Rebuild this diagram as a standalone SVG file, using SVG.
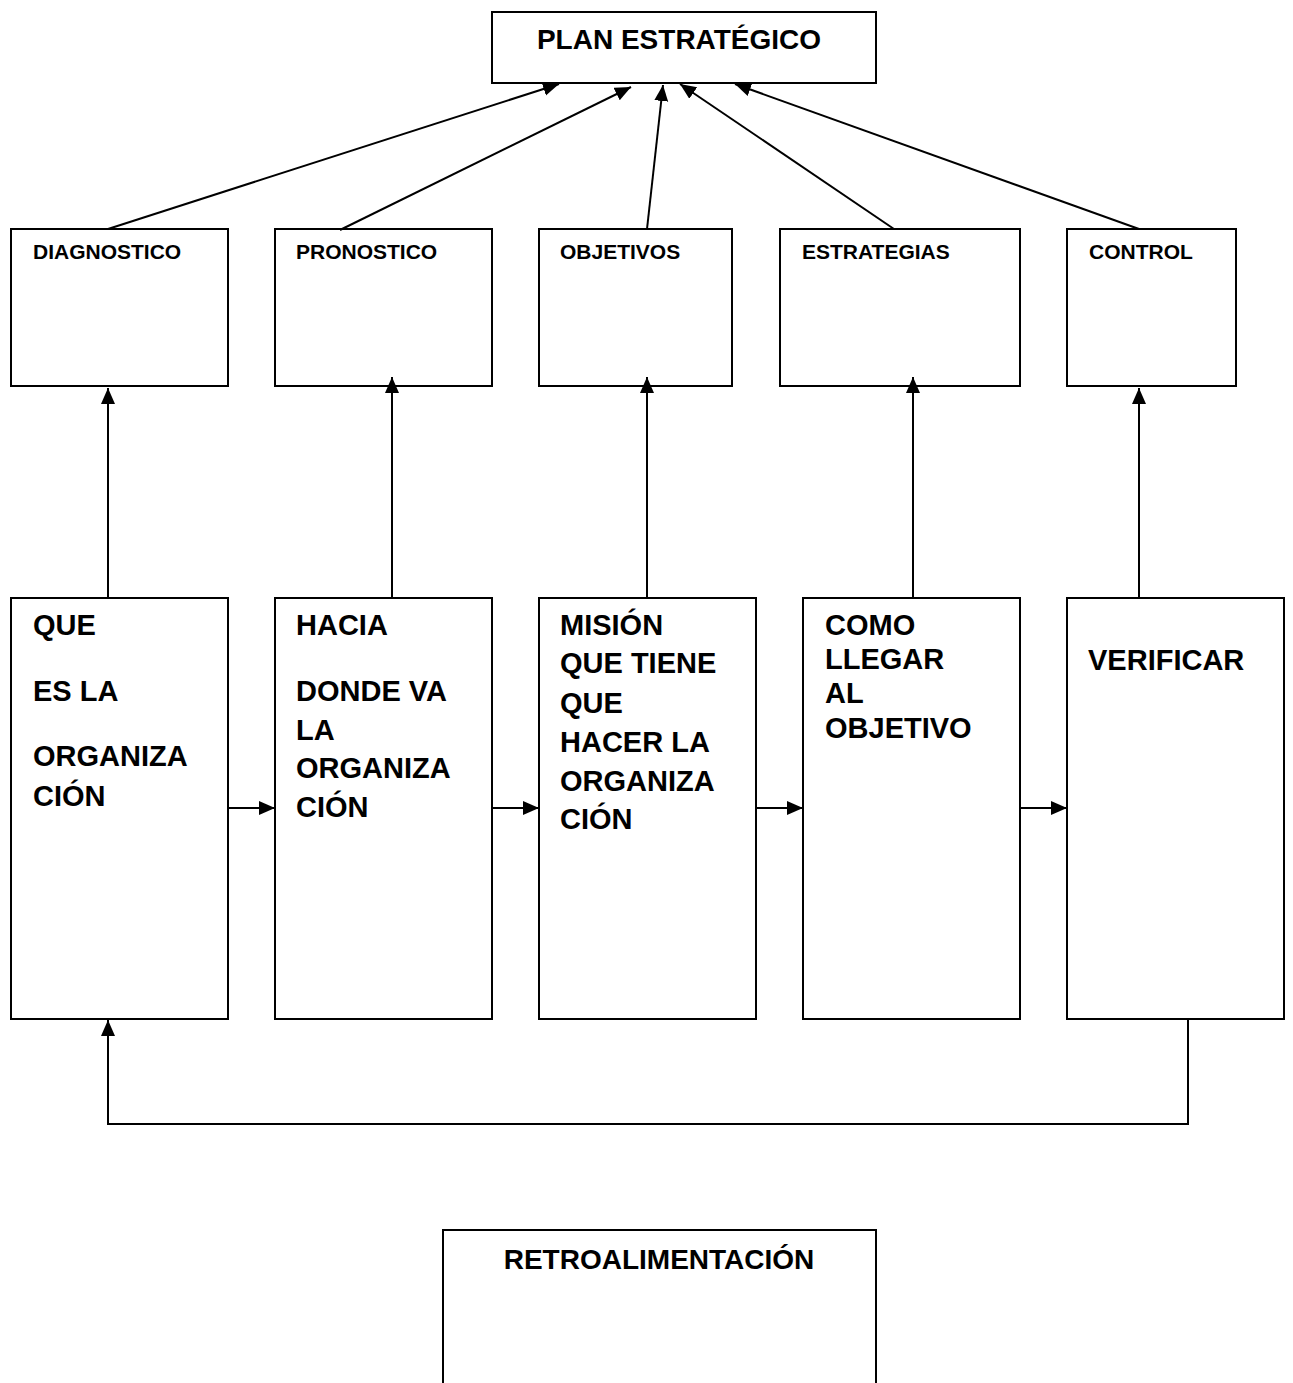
<svg xmlns="http://www.w3.org/2000/svg" width="1293" height="1383" viewBox="0 0 1293 1383">
<style>
.box{fill:#fff;stroke:#000;stroke-width:2}
.t{font-family:"Liberation Sans",Arial,sans-serif;font-weight:bold;fill:#000}
.big{font-size:28px}
.mid{font-size:29px}
.sm{font-size:21px}
.c{fill:none;stroke:#000;stroke-width:2}
</style>
<defs>
<marker id="ah" markerUnits="userSpaceOnUse" markerWidth="18" markerHeight="16" refX="16" refY="7" orient="auto">
<path d="M0,0 L16,7 L0,14 z" fill="#000"/>
</marker>
</defs>
<rect width="1293" height="1383" fill="#fff"/>
<g id="plan"><rect class="box" x="492" y="12" width="384" height="71"/><text class="t big" x="679" y="49" text-anchor="middle">PLAN ESTRATÉGICO</text></g>
<g id="diagnostico"><rect class="box" x="11" y="229" width="217" height="157"/><text class="t sm" x="33" y="259">DIAGNOSTICO</text></g>
<g id="pronostico"><rect class="box" x="275" y="229" width="217" height="157"/><text class="t sm" x="296" y="259">PRONOSTICO</text></g>
<g id="objetivos"><rect class="box" x="539" y="229" width="193" height="157"/><text class="t sm" x="560" y="259">OBJETIVOS</text></g>
<g id="estrategias"><rect class="box" x="780" y="229" width="240" height="157"/><text class="t sm" x="802" y="259">ESTRATEGIAS</text></g>
<g id="control"><rect class="box" x="1067" y="229" width="169" height="157"/><text class="t sm" x="1089" y="259">CONTROL</text></g>
<g id="que"><rect class="box" x="11" y="598" width="217" height="421"/><text class="t mid" x="33"><tspan x="33" y="635">QUE</tspan><tspan x="33" y="701">ES LA</tspan><tspan x="33" y="766">ORGANIZA</tspan><tspan x="33" y="806">CIÓN</tspan></text></g>
<g id="hacia"><rect class="box" x="275" y="598" width="217" height="421"/><text class="t mid" x="296"><tspan x="296" y="635">HACIA</tspan><tspan x="296" y="701">DONDE VA</tspan><tspan x="296" y="740">LA</tspan><tspan x="296" y="778">ORGANIZA</tspan><tspan x="296" y="817">CIÓN</tspan></text></g>
<g id="mision"><rect class="box" x="539" y="598" width="217" height="421"/><text class="t mid" x="560"><tspan x="560" y="635">MISIÓN</tspan><tspan x="560" y="673">QUE TIENE</tspan><tspan x="560" y="713">QUE</tspan><tspan x="560" y="752">HACER LA</tspan><tspan x="560" y="791">ORGANIZA</tspan><tspan x="560" y="829">CIÓN</tspan></text></g>
<g id="como"><rect class="box" x="803" y="598" width="217" height="421"/><text class="t mid" x="825"><tspan x="825" y="635">COMO</tspan><tspan x="825" y="669">LLEGAR</tspan><tspan x="825" y="703">AL</tspan><tspan x="825" y="738">OBJETIVO</tspan></text></g>
<g id="verificar"><rect class="box" x="1067" y="598" width="217" height="421"/><text class="t mid" x="1088" y="670">VERIFICAR</text></g>
<g id="retro"><rect class="box" x="443" y="1230" width="433" height="170"/><text class="t big" x="659" y="1269" text-anchor="middle">RETROALIMENTACIÓN</text></g>
<g id="connectors">
<line class="c" x1="108" y1="229" x2="559" y2="84" marker-end="url(#ah)"/>
<line class="c" x1="340" y1="230" x2="631" y2="87" marker-end="url(#ah)"/>
<line class="c" x1="647" y1="229" x2="663" y2="85" marker-end="url(#ah)"/>
<line class="c" x1="894" y1="229" x2="680" y2="84" marker-end="url(#ah)"/>
<line class="c" x1="1139" y1="229" x2="735" y2="84" marker-end="url(#ah)"/>
<line class="c" x1="108" y1="598" x2="108" y2="388" marker-end="url(#ah)"/>
<line class="c" x1="392" y1="598" x2="392" y2="377" marker-end="url(#ah)"/>
<line class="c" x1="647" y1="598" x2="647" y2="377" marker-end="url(#ah)"/>
<line class="c" x1="913" y1="598" x2="913" y2="377" marker-end="url(#ah)"/>
<line class="c" x1="1139" y1="598" x2="1139" y2="388" marker-end="url(#ah)"/>
<line class="c" x1="228" y1="808" x2="275" y2="808" marker-end="url(#ah)"/>
<line class="c" x1="492" y1="808" x2="539" y2="808" marker-end="url(#ah)"/>
<line class="c" x1="756" y1="808" x2="803" y2="808" marker-end="url(#ah)"/>
<line class="c" x1="1020" y1="808" x2="1067" y2="808" marker-end="url(#ah)"/>
<polyline class="c" points="1188,1019 1188,1124 108,1124 108,1020" marker-end="url(#ah)"/>
</g>
</svg>
